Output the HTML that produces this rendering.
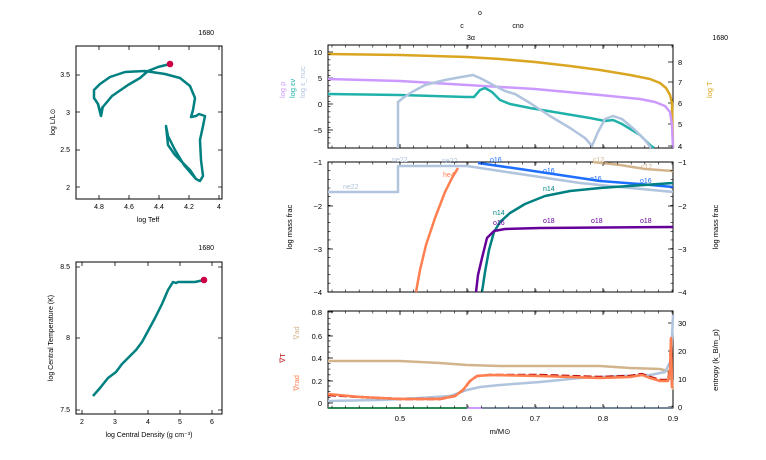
<!DOCTYPE html>
<html><head><meta charset="utf-8"><style>
html,body{margin:0;padding:0;background:#fff}
svg{display:block;font-family:"Liberation Sans",sans-serif}
</style></head><body>
<svg id="s" width="766" height="460" viewBox="0 0 766 460" xmlns="http://www.w3.org/2000/svg">
<g font-size="7" fill="#000">
<text x="214" y="35" text-anchor="end">1680</text>
<text x="214" y="250" text-anchor="end">1680</text>
<text x="728" y="40" text-anchor="end">1680</text>
<text x="480" y="15" text-anchor="middle">o</text>
<text x="462" y="28" text-anchor="middle">c</text>
<text x="518" y="28" text-anchor="middle">cno</text>
<text x="471" y="40" text-anchor="middle">3α</text>
</g>
<!-- HR panel -->
<rect x="76" y="46" width="146" height="153" fill="none" stroke="#000" stroke-width="1"/>
<g stroke="#000" stroke-width="0.8">
<path d="M99 199v-4M129 199v-4M159 199v-4M189 199v-4M219 199v-4M99 46v4M129 46v4M159 46v4M189 46v4M219 46v4M76 75h4M76 112h4M76 150h4M76 187h4M222 75h-4M222 112h-4M222 150h-4M222 187h-4"/>
</g>
<g font-size="7" text-anchor="middle">
<text x="99" y="209">4.8</text><text x="129" y="209">4.6</text><text x="159" y="209">4.4</text><text x="189" y="209">4.2</text><text x="219" y="209">4</text>
<text x="70" y="77" text-anchor="end">3.5</text><text x="70" y="115" text-anchor="end">3</text><text x="70" y="152" text-anchor="end">2.5</text><text x="70" y="190" text-anchor="end">2</text>
<text x="148" y="222">log Teff</text>
<text transform="translate(55,122) rotate(-90)">log L/L⊙</text>
</g>
<path d="M170 64 L158 67 L148 71 L140 78 L128 85 L112 96 L102 108 L101 116 L98 104 L94 98 L94 90 L100 84 L110 77 L125 72 L145 71 L165 74 L180 78 L190 86 L195 98 L193 110 L191 117 L196 116 L199 114 L205 116 L203 126 L200 140 L201 160 L203 176 L200 181 L196 179 L190 170 L182 162 L175 155 L168 145 L166 126 L168 136 L175 150 L184 165 L190 172 L196 179" fill="none" stroke="#008080" stroke-width="2.5" stroke-linejoin="round"/>
<path d="M98 104 L101 116 L103 106" fill="none" stroke="#008080" stroke-width="2.5"/>
<circle cx="170" cy="64" r="3.3" fill="#cc0044"/>
<!-- Tc rho panel -->
<rect x="76" y="262" width="146" height="152" fill="none" stroke="#000" stroke-width="1"/>
<g stroke="#000" stroke-width="0.8">
<path d="M82 414v-4M115 414v-4M148 414v-4M180 414v-4M212 414v-4M82 262v4M115 262v4M148 262v4M180 262v4M212 262v4M76 267h4M76 338h4M76 410h4M222 267h-4M222 338h-4M222 410h-4"/>
</g>
<g font-size="7" text-anchor="middle">
<text x="82" y="424">2</text><text x="115" y="424">3</text><text x="148" y="424">4</text><text x="180" y="424">5</text><text x="212" y="424">6</text>
<text x="70" y="269" text-anchor="end">8.5</text><text x="70" y="340" text-anchor="end">8</text><text x="70" y="412" text-anchor="end">7.5</text>
<text x="149" y="437">log Central Density (g cm⁻³)</text>
<text transform="translate(53,338) rotate(-90)">log Central Temperature (K)</text>
</g>
<path d="M93 396 L100 388 L108 378 L116 372 L122 364 L126 360 L130 356 L136 350 L142 342 L148 331 L155 318 L162 304 L168 290 L173 282 L176 283 L178 282 L195 282 L204 280" fill="none" stroke="#008080" stroke-width="2.5" stroke-linejoin="round"/>
<circle cx="204" cy="280" r="3.3" fill="#cc0044"/>
<!-- right top panel -->
<rect x="328" y="45" width="345" height="103" fill="none" stroke="#000" stroke-width="1"/>
<g stroke="#000" stroke-width="0.8">
<path d="M328 52h5M328 78h5M328 104h5M328 130h5M673 62h-5M673 82h-5M673 103h-5M673 124h-5M673 146h-5"/>
<path d="M400 148v-4M467 148v-4M535 148v-4M603 148v-4M400 45v4M467 45v4M535 45v4M603 45v4"/>
</g>
<g font-size="7.5">
<text x="322" y="55" text-anchor="end">10</text><text x="322" y="81" text-anchor="end">5</text><text x="322" y="107" text-anchor="end">0</text><text x="322" y="133" text-anchor="end">−5</text>
<text x="678" y="65">8</text><text x="678" y="85">7</text><text x="678" y="106">6</text><text x="678" y="127">5</text><text x="678" y="149">4</text>
<text transform="translate(285,98) rotate(-90)" fill="#cc99ff">log ρ</text>
<text transform="translate(295,98) rotate(-90)" fill="#20b2aa">log εν</text>
<text transform="translate(305,98) rotate(-90)" fill="#b0c4de">log ε_nuc</text>
<text transform="translate(712,98) rotate(-90)" fill="#daa520">log T</text>
</g>
<g fill="none" stroke-width="2.5" stroke-linejoin="round">
<path d="M328 54 L400 55 L467 57 L500 59 L535 62 L570 66 L600 70 L630 75 L650 79 L660 83 L666 88 L670 95 L672 103 L673 148" stroke="#daa520"/>
<path d="M328 79 L400 81 L467 85 L535 89 L600 95 L640 99 L655 102 L665 106 L670 112 L672 125 L673 148" stroke="#cc99ff"/>
<path d="M328 94 L400 95 L467 97 L474 97 L480 90 L485 88 L492 92 L500 100 L510 104 L530 108 L560 113 L590 118 L605 121 L613 120 L622 124 L640 135 L650 145 L654 148" stroke="#20b2aa"/>
<path d="M398 148 L398 102 L403 98 L412 92 L425 85 L445 80 L467 76 L473 75 L482 79 L495 86 L505 91 L515 94 L530 103 L550 116 L570 128 L585 138 L592 146 L598 132 L605 119 L613 116 L622 119 L635 130 L645 140 L651 148" stroke="#b0c4de"/>
</g>
<!-- middle panel -->
<rect x="328" y="162" width="345" height="130" fill="none" stroke="#000" stroke-width="1"/>
<g stroke="#000" stroke-width="0.8">
<path d="M328 162h5M328 206h5M328 249h5M328 292h5M673 162h-5M673 206h-5M673 249h-5M673 292h-5"/>
<path d="M400 292v-4M467 292v-4M535 292v-4M603 292v-4M400 162v4M467 162v4M535 162v4M603 162v4"/>
</g>
<g font-size="7.5">
<text x="322" y="165" text-anchor="end">−1</text><text x="322" y="209" text-anchor="end">−2</text><text x="322" y="252" text-anchor="end">−3</text><text x="322" y="295" text-anchor="end">−4</text>
<text x="678" y="165">−1</text><text x="678" y="209">−2</text><text x="678" y="252">−3</text><text x="678" y="295">−4</text>
<text transform="translate(292,227) rotate(-90)" text-anchor="middle">log mass frac</text>
<text transform="translate(718,227) rotate(-90)" text-anchor="middle">log mass frac</text>
</g>
<g fill="none" stroke-width="2.5" stroke-linejoin="round">
<path d="M328 192 L398 192 L398 166 L467 166 L500 171 L540 177 L580 183 L620 187 L673 192" stroke="#b0c4de"/>
<path d="M478 163 L520 169 L560 175 L600 181 L640 184 L673 187" stroke="#1e6fff"/>
<path d="M593 162 L620 165 L645 169 L673 171" stroke="#d2b48c"/>
<path d="M482 292 L485 272 L489 250 L494 232 L500 222 L510 213 L525 204 L545 196 L570 191 L600 188 L673 183" stroke="#008080"/>
<path d="M476 292 L478 275 L482 258 L487 238 L494 231 L505 229 L540 228 L673 227" stroke="#660099"/>
<path d="M416 292 L420 270 L426 245 L435 218 L445 192 L452 178 L458 168" stroke="#ff7f50"/>
</g>
<g font-size="7">
<text x="343" y="189" fill="#b0c4de">ne22</text>
<text x="392" y="162" fill="#b0c4de">ne22</text>
<text x="442" y="163" fill="#b0c4de">ne22</text>
<text x="443" y="177" fill="#ff7f50">he4</text>
<text x="490" y="162" fill="#1e6fff">o16</text>
<text x="543" y="173" fill="#1e6fff">o16</text>
<text x="590" y="181" fill="#1e6fff">o16</text>
<text x="640" y="183" fill="#1e6fff">o16</text>
<text x="593" y="162" fill="#d2b48c">c12</text>
<text x="641" y="169" fill="#d2b48c">c12</text>
<text x="543" y="191" fill="#008080">n14</text>
<text x="493" y="215" fill="#008080">n14</text>
<text x="493" y="225" fill="#660099">o16</text>
<text x="543" y="223" fill="#660099">o18</text>
<text x="591" y="223" fill="#660099">o18</text>
<text x="640" y="223" fill="#660099">o18</text>
</g>
<!-- bottom panel -->
<rect x="328" y="311" width="345" height="97" fill="none" stroke="#000" stroke-width="1"/>
<g stroke="#000" stroke-width="0.8">
<path d="M328 312h5M328 336h5M328 358h5M328 381h5M328 403h5M673 323h-5M673 351h-5M673 379h-5M673 407h-5"/>
<path d="M400 408v-4M467 408v-4M535 408v-4M603 408v-4M400 311v4M467 311v4M535 311v4M603 311v4"/>
</g>
<g font-size="7.5">
<text x="322" y="315" text-anchor="end">0.8</text><text x="322" y="339" text-anchor="end">0.6</text><text x="322" y="361" text-anchor="end">0.4</text><text x="322" y="384" text-anchor="end">0.2</text><text x="322" y="406" text-anchor="end">0</text>
<text x="678" y="326">30</text><text x="678" y="354">20</text><text x="678" y="382">10</text><text x="678" y="410">0</text>
<text x="400" y="421" text-anchor="middle">0.5</text><text x="467" y="421" text-anchor="middle">0.6</text><text x="535" y="421" text-anchor="middle">0.7</text><text x="603" y="421" text-anchor="middle">0.8</text><text x="673" y="421" text-anchor="middle">0.9</text>
<text x="500" y="434" text-anchor="middle">m/M⊙</text>
<text transform="translate(718,360) rotate(-90)" text-anchor="middle">entropy (k_B/m_p)</text>
<text transform="translate(299,333) rotate(-90)" fill="#d2b48c" text-anchor="middle">∇ad</text>
<text transform="translate(285,358) rotate(-90)" fill="#bb1111" text-anchor="middle">∇T</text>
<text transform="translate(299,383) rotate(-90)" fill="#ff7f50" text-anchor="middle">∇rad</text>
</g>
<g fill="none" stroke-width="2.5" stroke-linejoin="round">
<path d="M328 361 L400 361 L440 363 L467 365 L500 366 L600 366 L630 368 L660 369 L668 371 L672 380 L673 390" stroke="#d2b48c"/>
<path d="M328 401 L380 400 L420 398 L450 396 L467 390 L480 387 L500 385 L540 382 L580 378 L620 376 L650 375 L665 372 L671 360 L673 315" stroke="#b0c4de"/>
<path d="M328 395 L360 397 L400 399 L440 399 L455 396 L463 390 L470 381 L477 376 L490 375 L540 375 L600 377 L630 376 L642 374 L650 377 L660 380 L668 380 L670 370 L671 340 L672 385" stroke="#bb1111" stroke-dasharray="8 3"/>
<path d="M328 394 L360 397 L400 399 L440 399 L455 396 L463 390 L470 381 L477 376 L490 375 L540 376 L600 378 L630 377 L642 375 L650 378 L660 381 L668 381 L670 372 L671 338 L672 388" stroke="#ff7f50"/>
</g>
<path d="M328 408 L467 408" stroke="#2e8b57" stroke-width="2"/>
<path d="M467 408 L482 408" stroke="#cc99ff" stroke-width="2"/>
<path d="M482 408 L673 408" stroke="#778899" stroke-width="2"/>
<path id="minor" stroke="#000" stroke-width="0.6" fill="none" d=""/>
</svg>
<script>
var d="";
[[45,148],[162,292],[311,408]].forEach(function(p){
 for(var m=0.40;m<0.901;m+=0.02){var x=(400+(m-0.5)*680).toFixed(1);d+="M"+x+" "+p[1]+"v-2.5M"+x+" "+p[0]+"v2.5";}
});
for(var v=-7.5;v<=10;v+=1){var y=(104-v*5.2).toFixed(1);if(y>45&&y<148)d+="M328 "+y+"h2.5";}
for(var v=-1;v>=-4;v-=0.2){var y=(162+(-1-v)*43.3).toFixed(1);d+="M328 "+y+"h2.5M673 "+y+"h-2.5";}
for(var v=0;v<=0.8;v+=0.05){var y=(403-v*113).toFixed(1);d+="M328 "+y+"h2.5";}
document.getElementById("minor").setAttribute("d",d);
</script>
</body></html>
